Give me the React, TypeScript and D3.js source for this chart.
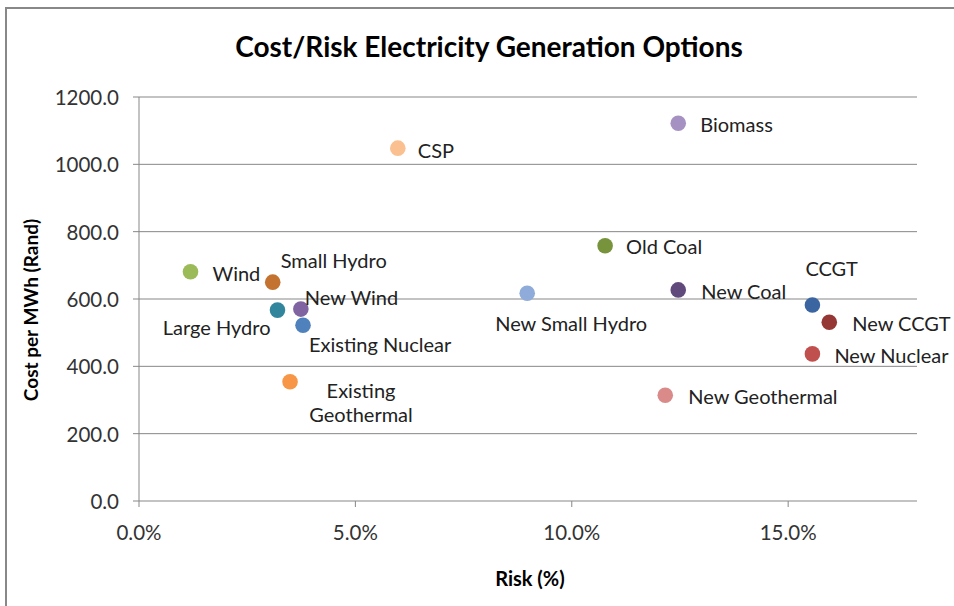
import React from "react";
import * as d3 from "d3";

const names = [
  "Wind", "Small Hydro", "Large Hydro", "New Wind", "Existing Nuclear", "Existing Geothermal",
  "CSP", "New Small Hydro", "Old Coal", "Biomass", "New Coal", "New Geothermal",
  "CCGT", "New CCGT", "New Nuclear",
];
const risk = [0.0119, 0.0309, 0.032, 0.0374, 0.0379, 0.0349, 0.0598, 0.0897, 0.1077, 0.1246, 0.1246, 0.1216, 0.1556, 0.1595, 0.1556];
const cost = [681, 650, 567, 570, 522, 354, 1048, 617, 758, 1122, 627, 314, 582, 531, 437];
const colors = [
  "#9BBB59", "#C4722F", "#31859C", "#8064A2", "#4F81BD", "#F79646",
  "#FAC090", "#8EABD9", "#77933C", "#A692C2", "#604A7B", "#D98A89",
  "#3A65A0", "#953735", "#C0504D",
];
const yTicks = [0, 200, 400, 600, 800, 1000, 1200];
const xTicks = [0, 0.05, 0.1, 0.15];

// label placement (style): dx, dy relative to the marker, anchor
const labelPlace: Record<string, { dx: number; dy: number; anchor: string; lines?: string[] }> = {
  "Wind": { dx: 22, dy: 1, anchor: "start" },
  "Small Hydro": { dx: 8, dy: -22, anchor: "start" },
  "Large Hydro": { dx: -7, dy: 17, anchor: "end" },
  "New Wind": { dx: 4, dy: -12, anchor: "start" },
  "Existing Nuclear": { dx: 6, dy: 19, anchor: "start" },
  "Existing Geothermal": { dx: 71, dy: 8, anchor: "middle", lines: ["Existing", "Geothermal"] },
  "CSP": { dx: 20, dy: 2, anchor: "start" },
  "New Small Hydro": { dx: -32, dy: 30, anchor: "start" },
  "Old Coal": { dx: 21, dy: 0, anchor: "start" },
  "Biomass": { dx: 22, dy: 1, anchor: "start" },
  "New Coal": { dx: 23, dy: 1, anchor: "start" },
  "New Geothermal": { dx: 23, dy: 1, anchor: "start" },
  "CCGT": { dx: -7, dy: -37, anchor: "start" },
  "New CCGT": { dx: 23, dy: 1, anchor: "start" },
  "New Nuclear": { dx: 22, dy: 1, anchor: "start" },
};

const FONT = "Lato, 'Open Sans', sans-serif";
const LABEL_SIZE = 20;

export default function App() {
  const W = 954, H = 606;
  const x = d3.scaleLinear().domain([0, 0.18]).range([139, 918]);
  const y = d3.scaleLinear().domain([0, 1200]).range([501, 97]);
  const fmtY = d3.format(".1f");
  const fmtX = d3.format(".1%");
  const grid = "#878787";

  return (
    <svg width={W} height={H} style={{ position: "absolute", left: 0, top: 0, background: "#fff" }} fontFamily={FONT}>
      <rect x={0} y={0} width={W} height={H} fill="#fff" />
      <rect x={6} y={8} width={980} height={640} fill="none" stroke="#888" strokeWidth={2} />
      <text x={489} y={46} textAnchor="middle" dominantBaseline="central" fontWeight="bold" fontSize={28} fill="#000">
        Cost/Risk Electricity Generation Options
      </text>
      {yTicks.map((t) => (
        <g key={"y" + t}>
          {t > 0 && <line x1={139} x2={917} y1={y(t)} y2={y(t)} stroke={grid} strokeWidth={1} />}
          <line x1={133} x2={139} y1={y(t)} y2={y(t)} stroke={grid} strokeWidth={1} />
          <text x={119} y={y(t)} textAnchor="end" dominantBaseline="central" fontSize={20.5} fill="#333">
            {fmtY(t)}
          </text>
        </g>
      ))}
      <line x1={139} x2={139} y1={97} y2={501} stroke={grid} strokeWidth={1} />
      <line x1={139} x2={917} y1={501} y2={501} stroke={grid} strokeWidth={1} />
      {xTicks.map((t) => (
        <g key={"x" + t}>
          <line x1={x(t)} x2={x(t)} y1={501} y2={507} stroke={grid} strokeWidth={1} />
          <text x={x(t)} y={532} textAnchor="middle" dominantBaseline="central" fontSize={20.5} fill="#333">
            {fmtX(t)}
          </text>
        </g>
      ))}
      <text x={530} y={578} textAnchor="middle" dominantBaseline="central" fontWeight="bold" fontSize={20} fill="#000">
        Risk (%)
      </text>
      <text transform="translate(30,310) rotate(-90)" textAnchor="middle" dominantBaseline="central" fontWeight="bold" fontSize={19} fill="#000">
        Cost per MWh (Rand)
      </text>
      {names.map((n, i) => {
        const cx = x(risk[i]), cy = y(cost[i]);
        const p = labelPlace[n];
        return (
          <g key={n}>
            <circle cx={cx} cy={cy} r={7.8} fill={colors[i]} />
            {p.lines ? (
              p.lines.map((l, j) => (
                <text key={l} x={cx + p.dx} y={cy + p.dy + j * 24} textAnchor={p.anchor} dominantBaseline="central" fontSize={LABEL_SIZE} fill="#222">
                  {l}
                </text>
              ))
            ) : (
              <text x={cx + p.dx} y={cy + p.dy} textAnchor={p.anchor} dominantBaseline="central" fontSize={LABEL_SIZE} fill="#222">
                {n}
              </text>
            )}
          </g>
        );
      })}
    </svg>
  );
}
